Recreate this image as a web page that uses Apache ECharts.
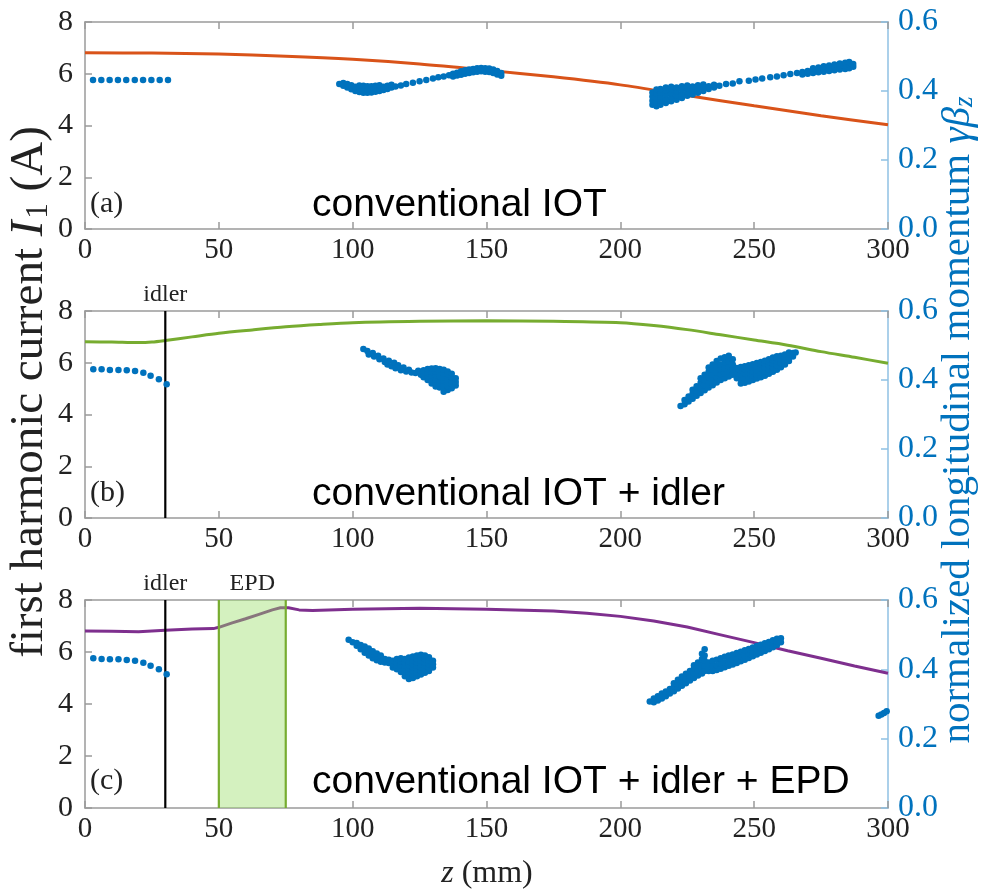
<!DOCTYPE html>
<html><head><meta charset="utf-8">
<script src="https://cdn.jsdelivr.net/npm/echarts@6/dist/echarts.min.js"></script>
<style>html,body{margin:0;padding:0;background:#fff}#c{width:982px;height:894px}</style>
</head><body><div id="c"></div>
<script>
// ---------- axes ----------
const zMin = 0, zMax = 300, zStep = 50;
const iMin = 0, iMax = 8, iStep = 2;
const pMin = 0, pMax = 0.6, pStep = 0.2;

// ---------- harmonic current curves (z mm, I1 A) ----------
const aCurveZ = [0,25,50,75,100,125,150,175,200,225,250,275,300];
const aCurveI = [6.81,6.80,6.76,6.68,6.56,6.38,6.14,5.88,5.57,5.16,4.76,4.38,4.03];
const bCurveZ = [0,10,20,25,30,40,50,62.5,75,87.5,100,125,150,175,200,212.5,225,237.5,250,262.5,275,287.5,300];
const bCurveI = [6.81,6.80,6.78,6.80,6.86,7.00,7.14,7.27,7.39,7.48,7.55,7.60,7.62,7.60,7.55,7.44,7.28,7.08,6.88,6.68,6.43,6.21,5.98];
const cCurveZ = [0,10,20,30,40,48,50,55,60,65,70,73,76,80,85,100,125,150,175,187.5,200,212.5,225,237.5,250,262.5,275,287.5,300];
const cCurveI = [6.81,6.80,6.78,6.84,6.88,6.90,6.95,7.12,7.28,7.45,7.62,7.70,7.70,7.62,7.60,7.64,7.68,7.64,7.58,7.49,7.37,7.19,6.96,6.66,6.36,6.05,5.76,5.46,5.18];

// ---------- momentum scatter rows: [z, v, v, ...] ----------
const aDots = [[3,0.432],[6.1,0.432],[9.2,0.432],[12.3,0.432],[15.4,0.432],[18.6,0.432],[21.7,0.432],[24.8,0.432],[27.9,0.432],[31,0.432]];
const aMid = [[95,0.42],[96.5,0.415,0.423],[98,0.41,0.42],[99.5,0.405,0.417],[101,0.40,0.412],[102.5,0.397,0.408,0.416],[104,0.395,0.405,0.415],[105.5,0.395,0.404,0.414],[107,0.396,0.405,0.414],[108.5,0.398,0.407,0.415],[110,0.40,0.409,0.417],[111.5,0.403,0.412],[113,0.406,0.415],[114.5,0.41,0.418],[116,0.413],[118,0.416],[120,0.42],[122.5,0.424],[125,0.428],[127.5,0.432],[130,0.436],[132,0.44],[134,0.442],[136,0.446],[137.5,0.442,0.45],[139,0.445,0.453],[140.5,0.447,0.457],[142,0.45,0.455,0.46],[143.5,0.452,0.462],[145,0.454,0.459,0.464],[146.5,0.456,0.466],[148,0.457,0.462,0.467],[149.5,0.456,0.466],[151,0.455,0.46,0.465],[152.5,0.452,0.462],[154,0.448,0.458],[155.5,0.444,0.452]];
const aRight = [[212,0.36,0.372,0.384,0.396],[213.5,0.356,0.368,0.38,0.392,0.404],[215,0.36,0.372,0.384,0.396,0.406],[217,0.365,0.377,0.389,0.401,0.41],[219,0.37,0.382,0.394,0.405,0.412],[221,0.375,0.387,0.399,0.41],[223,0.38,0.392,0.404,0.414],[225,0.386,0.397,0.408,0.416],[227,0.39,0.402,0.413],[229,0.395,0.407,0.417],[231,0.40,0.41,0.419],[233,0.406,0.414],[235,0.41,0.418],[237,0.415],[239.5,0.42],[242,0.422],[244.5,0.428],[248,0.43],[250.5,0.433],[253,0.436],[256,0.44],[258.5,0.442],[261,0.446],[263.5,0.449],[266,0.452],[268,0.448,0.455],[270,0.45,0.458],[272,0.452,0.461,0.466],[274,0.454,0.463,0.468],[276,0.456,0.466,0.472],[278,0.458,0.468,0.474],[280,0.46,0.47,0.477],[282,0.462,0.472,0.48],[284,0.464,0.474,0.482],[285.5,0.466,0.476,0.484],[287,0.47,0.478]];

const bDots = [[3.1,0.431],[6.2,0.431],[9.3,0.429],[12.5,0.429],[15.6,0.428],[18.7,0.426],[21.8,0.421],[24.5,0.412],[27.6,0.402],[30.5,0.388]];
const bMid = [[104,0.49],[105.5,0.484],[106,0.474],[107.5,0.478],[108,0.468],[109.5,0.47],[110,0.46],[111.5,0.462],[112,0.452],[113,0.445],[113.5,0.456],[114.5,0.44],[115.5,0.45],[116,0.434],[117,0.443],[118,0.428],[119,0.436],[120,0.425],[121,0.43],[122,0.422],[123.5,0.42],[124.5,0.427],[125.5,0.415],[126.5,0.408,0.418,0.428],[128,0.40,0.41,0.42,0.432],[129.5,0.39,0.401,0.412,0.423,0.433],[131,0.381,0.391,0.402,0.413,0.424,0.434],[132.5,0.378,0.389,0.40,0.411,0.422,0.432],[134,0.366,0.376,0.387,0.398,0.409,0.42,0.43],[135.5,0.371,0.382,0.393,0.404,0.415,0.425],[137,0.376,0.386,0.397,0.408,0.418],[138.5,0.384,0.394,0.405]];
const bRight = [[222.5,0.325],[224,0.33,0.342],[225.5,0.338,0.352],[227,0.346,0.36,0.372],[228.5,0.354,0.368,0.382],[230,0.362,0.376,0.392,0.405],[231.5,0.37,0.385,0.40,0.415],[233,0.378,0.393,0.408,0.424,0.436],[234.5,0.385,0.40,0.415,0.43,0.445],[236,0.393,0.408,0.423,0.438,0.455],[237.5,0.40,0.415,0.43,0.445,0.462],[239,0.405,0.42,0.435,0.45,0.466],[240.5,0.41,0.425,0.44,0.455,0.47],[242,0.415,0.43,0.445,0.46],[243.5,0.405,0.42,0.435],[245,0.39,0.402,0.415,0.428,0.438],[246.5,0.392,0.405,0.418,0.43,0.44],[248,0.396,0.408,0.42,0.432,0.443],[249.5,0.40,0.412,0.424,0.436,0.446],[251,0.404,0.416,0.428,0.44,0.449],[252.5,0.408,0.42,0.432,0.444,0.452],[254,0.412,0.424,0.436,0.448,0.456],[255.5,0.418,0.43,0.442,0.452,0.46],[257,0.424,0.436,0.448,0.458,0.465],[258.5,0.43,0.442,0.454,0.464,0.469],[260,0.437,0.449,0.46,0.47],[261.5,0.445,0.456,0.466,0.474],[263,0.455,0.465,0.474,0.48],[264.5,0.468,0.478],[265.5,0.48]];

const cDots = [[3.1,0.432],[6.2,0.430],[9.3,0.429],[12.5,0.429],[15.6,0.427],[18.7,0.425],[21.8,0.419],[24.5,0.41],[27.6,0.40],[30.5,0.386]];
const cMid = [[98.5,0.485],[100,0.478],[101.5,0.468,0.476],[103,0.458,0.47],[104.5,0.448,0.46,0.466],[106,0.44,0.452,0.46],[107.5,0.432,0.444,0.452],[109,0.426,0.437,0.446],[110.5,0.422,0.432,0.44],[112,0.42,0.43],[113.5,0.418,0.428],[115,0.405,0.415,0.425],[116.5,0.40,0.41,0.42,0.43],[118,0.392,0.402,0.412,0.422,0.432],[119.5,0.38,0.39,0.40,0.41,0.42,0.43],[121,0.372,0.382,0.392,0.402,0.412,0.422,0.434],[122.5,0.375,0.385,0.395,0.405,0.415,0.425,0.437],[124,0.38,0.39,0.40,0.41,0.42,0.43,0.44],[125.5,0.385,0.395,0.405,0.415,0.425,0.435,0.442],[127,0.39,0.40,0.41,0.42,0.43,0.44],[128.5,0.395,0.405,0.415,0.425,0.435],[130,0.405,0.415,0.425]];
const cRight = [[211,0.307],[212.5,0.305,0.316],[214,0.31,0.322],[215.5,0.316,0.33],[217,0.322,0.336],[218.5,0.33,0.343],[220,0.337,0.35,0.36],[221.5,0.345,0.358,0.37],[223,0.353,0.366,0.379],[224.5,0.36,0.373,0.387],[226,0.368,0.381,0.395],[227.5,0.375,0.389,0.403,0.412],[229,0.382,0.396,0.41,0.42],[230.5,0.388,0.402,0.416,0.43,0.445],[231.5,0.395,0.41,0.425,0.44,0.458],[233,0.395,0.408,0.42],[234.5,0.395,0.41,0.425],[236,0.398,0.412,0.428],[237.5,0.402,0.416,0.432],[239,0.406,0.42,0.436],[240.5,0.41,0.424,0.432,0.44],[242,0.414,0.428,0.443],[243.5,0.418,0.432,0.447],[245,0.423,0.436,0.451],[246.5,0.428,0.44,0.455],[248,0.433,0.445,0.459],[249.5,0.438,0.45,0.463],[251,0.443,0.455,0.467],[252.5,0.448,0.46,0.471],[254,0.453,0.465,0.475],[255.5,0.458,0.47,0.479],[257,0.464,0.475,0.484],[258.5,0.47,0.48,0.488],[260,0.478,0.49]];
const cEdge = [[296.5,0.266],[297.5,0.27],[298.5,0.274],[299.5,0.279]];

// ---------- markers ----------
const idlerZ = [30];
const epdZ = [50, 75];
const panelLetters = ['(a)', '(b)', '(c)'];
const panelTitles = ['conventional IOT', 'conventional IOT + idler', 'conventional IOT + idler + EPD'];
const lineColors = ['#D95319', '#77AC30', '#7E2F8E'];

// ---------- helpers ----------
const rowsToPts = rows => { const o = []; rows.forEach(r => { for (let k = 1; k < r.length; k++) o.push([r[0], r[k]]); }); return o; };
const zip = (xs, ys) => xs.map((x, k) => [x, ys[k]]);

const SERIF = 'Liberation Serif';
const FRAME = '#9a9a9a';
const RBLUE = '#0072BD';
const RAXIS = '#8fc1e3';

const grids = [
  {left: 85, right: 94, top: 22, height: 207},
  {left: 85, right: 94, top: 311, height: 207},
  {left: 85, right: 94, top: 600, height: 208}
];
const xAxes = [], yAxes = [];
grids.forEach((g, i) => {
  const base = {gridIndex: i, type: 'value', min: zMin, max: zMax, interval: zStep, splitLine: {show: false},
    axisLine: {show: true, onZero: false, lineStyle: {color: FRAME, width: 1.5}},
    axisTick: {show: true, inside: true, length: 7, lineStyle: {color: FRAME, width: 1.5}}};
  xAxes.push(Object.assign({}, base, {position: 'bottom',
    axisLabel: {fontFamily: SERIF, fontSize: 29, color: '#222', margin: 7}}));
  xAxes.push(Object.assign({}, base, {position: 'top', axisLabel: {show: false}}));
  yAxes.push({gridIndex: i, type: 'value', min: iMin, max: iMax, interval: iStep, position: 'left', splitLine: {show: false},
    axisLine: {show: true, onZero: false, lineStyle: {color: FRAME, width: 1.5}},
    axisTick: {show: true, inside: true, length: 7, lineStyle: {color: FRAME, width: 1.5}},
    axisLabel: {fontFamily: SERIF, fontSize: 30, color: '#222', margin: 12}});
  yAxes.push({gridIndex: i, type: 'value', min: pMin, max: pMax, interval: pStep, position: 'right', splitLine: {show: false},
    axisLine: {show: true, onZero: false, lineStyle: {color: RAXIS, width: 1.5}},
    axisTick: {show: true, inside: true, length: 7, lineStyle: {color: RAXIS, width: 1.5}},
    axisLabel: {fontFamily: SERIF, fontSize: 32, color: RBLUE, margin: 10, formatter: v => v.toFixed(1)}});
});

const curves = [zip(aCurveZ, aCurveI), zip(bCurveZ, bCurveI), zip(cCurveZ, cCurveI)];
const scatters = [
  rowsToPts(aDots).concat(rowsToPts(aMid), rowsToPts(aRight)),
  rowsToPts(bDots).concat(rowsToPts(bMid), rowsToPts(bRight)),
  rowsToPts(cDots).concat(rowsToPts(cMid), rowsToPts(cRight), rowsToPts(cEdge))
];

const series = [];
curves.forEach((d, i) => {
  series.push({type: 'line', xAxisIndex: 2 * i, yAxisIndex: 2 * i, data: d, showSymbol: false, smooth: i === 2 ? false : 0.3,
    lineStyle: {color: lineColors[i], width: 3}, z: 2, silent: true});
});

function idlerRender(params, api) {
  const z = api.value(0);
  const top = api.coord([z, iMax]);
  const bot = api.coord([z, iMin]);
  return {type: 'group', children: [
    {type: 'line', shape: {x1: top[0], y1: top[1], x2: bot[0], y2: bot[1]}, style: {stroke: '#000', lineWidth: 2.2}},
    {type: 'text', x: top[0], y: top[1] - 4, style: {text: 'idler', font: '24px "Liberation Serif"', fill: '#222', align: 'center', verticalAlign: 'bottom'}}
  ]};
}
function epdRender(params, api) {
  const p1 = api.coord([api.value(0), iMax]);
  const p2 = api.coord([api.value(1), iMin]);
  return {type: 'group', children: [
    {type: 'rect', shape: {x: p1[0], y: p1[1], width: p2[0] - p1[0], height: p2[1] - p1[1]}, style: {fill: 'rgba(150,220,100,0.41)'}},
    {type: 'line', shape: {x1: p1[0], y1: p1[1], x2: p1[0], y2: p2[1]}, style: {stroke: '#77AC30', lineWidth: 2.2}},
    {type: 'line', shape: {x1: p2[0], y1: p1[1], x2: p2[0], y2: p2[1]}, style: {stroke: '#77AC30', lineWidth: 2.2}},
    {type: 'text', x: (p1[0] + p2[0]) / 2, y: p1[1] - 4, style: {text: 'EPD', font: '24px "Liberation Serif"', fill: '#222', align: 'center', verticalAlign: 'bottom'}}
  ]};
}
series.push({type: 'custom', xAxisIndex: 4, yAxisIndex: 4, data: [[epdZ[0], epdZ[1]]], renderItem: epdRender, clip: false, z: 3, silent: true});
[1, 2].forEach(i => {
  series.push({type: 'custom', xAxisIndex: 2 * i, yAxisIndex: 2 * i, data: [[idlerZ[0], 0]], renderItem: idlerRender, clip: false, z: 4, silent: true});
});
scatters.forEach((d, i) => {
  series.push({type: 'scatter', xAxisIndex: 2 * i, yAxisIndex: 2 * i + 1, data: d, symbolSize: 6.5,
    itemStyle: {color: RBLUE, opacity: 1}, z: 5, silent: true});
});

const labelYs = [204, 493, 781];
const graphic = [];
labelYs.forEach((y, i) => {
  graphic.push({type: 'text', x: 90, y: y, style: {text: panelLetters[i], font: '30px "Liberation Serif"', fill: '#222', verticalAlign: 'middle'}});
  graphic.push({type: 'text', x: 312, y: y + 1, style: {text: panelTitles[i], font: '39px "Liberation Sans"', fill: '#000', verticalAlign: 'middle'}});
});
graphic.push({type: 'text', x: 30, y: 392, rotation: Math.PI / 2, style: {
  text: '{n|first harmonic current }{i|I}{s|1}{n| (A)}', align: 'center', verticalAlign: 'middle',
  rich: {n: {fontFamily: SERIF, fontSize: 47, fill: '#222'}, i: {fontFamily: SERIF, fontSize: 47, fontStyle: 'italic', fill: '#222'},
         s: {fontFamily: SERIF, fontSize: 31, fill: '#222', padding: [17, 0, 0, 2]}}}});
graphic.push({type: 'text', x: 958, y: 420, rotation: Math.PI / 2, style: {
  text: '{n|normalized longitudinal momentum }{i|γβ}{s|z}', align: 'center', verticalAlign: 'middle',
  rich: {n: {fontFamily: SERIF, fontSize: 41, fill: RBLUE}, i: {fontFamily: SERIF, fontSize: 41, fontStyle: 'italic', fill: RBLUE},
         s: {fontFamily: SERIF, fontSize: 27, fontStyle: 'italic', fill: RBLUE, padding: [14, 0, 0, 0]}}}});
graphic.push({type: 'text', x: 487, y: 874, style: {
  text: '{i|z}{n| (mm)}', align: 'center', verticalAlign: 'middle',
  rich: {n: {fontFamily: SERIF, fontSize: 32, fill: '#222'}, i: {fontFamily: SERIF, fontSize: 32, fontStyle: 'italic', fill: '#222'}}}});

const chart = echarts.init(document.getElementById('c'), null, {renderer: 'canvas'});
chart.setOption({animation: false, backgroundColor: '#fff', grid: grids, xAxis: xAxes, yAxis: yAxes, series: series, graphic: graphic});
</script></body></html>
